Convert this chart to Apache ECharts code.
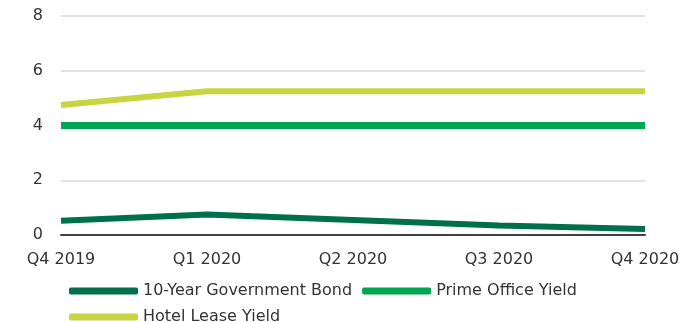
<!DOCTYPE html>
<html><head><meta charset="utf-8">
<script src="https://cdn.jsdelivr.net/npm/echarts@6/dist/echarts.min.js"></script>
<style>html,body{margin:0;padding:0;background:#fff}#c{width:698px;height:322px}</style>
</head><body><div id="c"></div>
<script>
const categories = ['Q4 2019','Q1 2020','Q2 2020','Q3 2020','Q4 2020'];
const bondValues = [0.52, 0.75, 0.55, 0.35, 0.22];
const officeValues = [4.0, 4.0, 4.0, 4.0, 4.0];
const hotelValues = [4.75, 5.25, 5.25, 5.25, 5.25];
const yTicks = {min: 0, max: 8, interval: 2};

const font = 'DejaVu Sans';
const chart = echarts.init(document.getElementById('c'));
chart.setOption({
  animation: false,
  grid: {left: 61, right: 53, top: 16, bottom: 87, containLabel: false},
  legend: {
    left: 69, top: 283, width: 560, padding: 0,
    itemWidth: 69, itemHeight: 7, itemGap: 10,
    icon: 'roundRect',
    textStyle: {fontFamily: font, fontSize: 16, color: '#333', lineHeight: 12},
    data: ['10-Year Government Bond', 'Prime Office Yield', 'Hotel Lease Yield']
  },
  xAxis: {
    type: 'category', data: categories, boundaryGap: false,
    axisLine: {lineStyle: {color: '#404040', width: 2}},
    axisTick: {show: false},
    axisLabel: {fontFamily: font, fontSize: 16, color: '#333', margin: 17, interval: 0}
  },
  yAxis: {
    type: 'value', min: yTicks.min, max: yTicks.max, interval: yTicks.interval,
    axisLine: {show: false}, axisTick: {show: false},
    splitLine: {lineStyle: {color: '#d9d9d9', width: 1.5}},
    axisLabel: {fontFamily: font, fontSize: 16, color: '#333', margin: 18}
  },
  series: [
    {name: '10-Year Government Bond', type: 'line', data: bondValues, symbol: 'none',
     lineStyle: {color: '#00704a', width: 6}, itemStyle: {color: '#00704a'}},
    {name: 'Prime Office Yield', type: 'line', data: officeValues, symbol: 'none',
     lineStyle: {color: '#00a651', width: 7}, itemStyle: {color: '#00a651'}},
    {name: 'Hotel Lease Yield', type: 'line', data: hotelValues, symbol: 'none',
     lineStyle: {color: '#c8d541', width: 6}, itemStyle: {color: '#c8d541'}}
  ]
});
</script></body></html>
